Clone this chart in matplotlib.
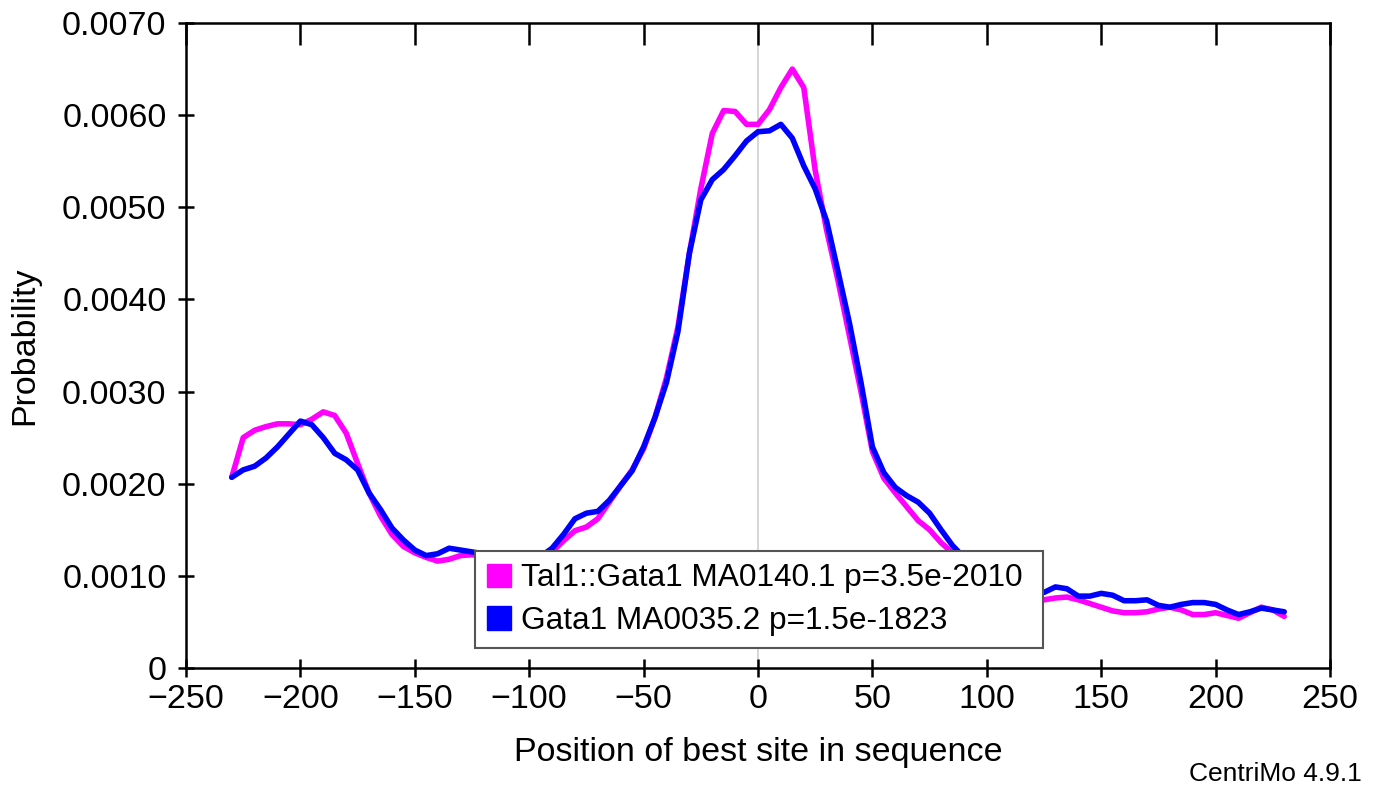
import matplotlib
matplotlib.use("Agg")
import matplotlib.pyplot as plt
from matplotlib.patches import Patch

plt.rcParams['font.family'] = ['Liberation Sans', 'DejaVu Sans']

positions = list(range(-230, 231, 5))

tal1_gata1 = [
    0.00207, 0.00250, 0.00258, 0.00262, 0.00265, 0.00265, 0.00264, 0.00270, 0.00278, 0.00274,
    0.00255, 0.00222, 0.00190, 0.00165, 0.00145, 0.00132, 0.00125, 0.00120, 0.00116, 0.00118,
    0.00122, 0.00123, 0.00121, 0.00119, 0.00117, 0.00115, 0.00114, 0.00118, 0.00126, 0.00138,
    0.00149, 0.00153, 0.00162, 0.00180, 0.00198, 0.00215, 0.00238, 0.00272, 0.00315, 0.00370,
    0.00450, 0.00520, 0.00580, 0.00605, 0.00604, 0.00590, 0.00590, 0.00606, 0.00630, 0.00650,
    0.00630, 0.00540, 0.00475, 0.00420, 0.00360, 0.00300, 0.00235, 0.00206, 0.00190, 0.00175,
    0.00160, 0.00150, 0.00136, 0.00125, 0.00115, 0.00105, 0.00098, 0.00090, 0.00085, 0.00080,
    0.00076, 0.00074, 0.00076, 0.00077, 0.00074, 0.00070, 0.00066, 0.00062, 0.00060, 0.00060,
    0.00061, 0.00064, 0.00066, 0.00063, 0.00058, 0.00058, 0.00060, 0.00057, 0.00054, 0.00060,
    0.00066, 0.00063, 0.00056,
]

gata1 = [
    0.00207, 0.00215, 0.00219, 0.00228, 0.00240, 0.00254, 0.00268, 0.00264, 0.00250, 0.00233,
    0.00226, 0.00215, 0.00190, 0.00172, 0.00152, 0.00139, 0.00128, 0.00122, 0.00124, 0.00130,
    0.00128, 0.00126, 0.00124, 0.00121, 0.00118, 0.00116, 0.00115, 0.00121, 0.00130, 0.00145,
    0.00162, 0.00168, 0.00170, 0.00182, 0.00198, 0.00214, 0.00240, 0.00272, 0.00310, 0.00365,
    0.00450, 0.00508, 0.00530, 0.00541, 0.00556, 0.00572, 0.00582, 0.00583, 0.00590, 0.00575,
    0.00545, 0.00520, 0.00485, 0.00430, 0.00374, 0.00310, 0.00240, 0.00212, 0.00196, 0.00187,
    0.00180, 0.00168, 0.00150, 0.00133, 0.00120, 0.00110, 0.00103, 0.00096, 0.00090, 0.00086,
    0.00082, 0.00082, 0.00088, 0.00086, 0.00078, 0.00078, 0.00081, 0.00079, 0.00073, 0.00073,
    0.00074, 0.00068, 0.00066, 0.00069, 0.00071, 0.00071, 0.00069, 0.00063, 0.00058, 0.00061,
    0.00065, 0.00063, 0.00061,
]

series_labels = ["Tal1::Gata1 MA0140.1 p=3.5e-2010", "Gata1 MA0035.2 p=1.5e-1823"]
series_colors = ["#ff00ff", "#0000ff"]

x_ticks = [-250, -200, -150, -100, -50, 0, 50, 100, 150, 200, 250]
x_tick_labels = ["\u2212250", "\u2212200", "\u2212150", "\u2212100", "\u221250", "0",
                 "50", "100", "150", "200", "250"]
y_ticks = [0, 0.001, 0.002, 0.003, 0.004, 0.005, 0.006, 0.007]
y_tick_labels = ["0", "0.0010", "0.0020", "0.0030", "0.0040", "0.0050", "0.0060", "0.0070"]

fig = plt.figure(figsize=(13.78, 7.93), dpi=100)
ax = fig.add_axes([186/1378, 125/793, (1330-186)/1378, (668-23)/793])

ax.axvline(0, color="#d0d0d0", linewidth=1.2, zorder=1)
ax.plot(positions, tal1_gata1, color=series_colors[0], linewidth=4.0, zorder=3,
        solid_capstyle="round", solid_joinstyle="round")
ax.plot(positions, gata1, color=series_colors[1], linewidth=4.0, zorder=4,
        solid_capstyle="round", solid_joinstyle="round")

ax.set_xlim(-250, 250)
ax.set_ylim(0, 0.007)
ax.set_xticks(x_ticks)
ax.set_xticklabels(x_tick_labels)
ax.set_yticks(y_ticks)
ax.set_yticklabels(y_tick_labels)

for s in ax.spines.values():
    s.set_linewidth(1.8)

ax.tick_params(axis="x", which="both", direction="inout", length=13, width=1.8,
               labelsize=24.5, pad=5, top=True)
ax.tick_params(axis="y", which="both", direction="inout", length=12, width=1.8,
               labelsize=24.5, pad=8, right=False)
for t in ax.xaxis.get_major_ticks():
    t.tick2line.set_markersize(16)
    t.tick2line.set_marker(3)

ax.set_xlabel("Position of best site in sequence", fontsize=24.5, labelpad=16)
ax.set_ylabel("Probability", fontsize=24.5, labelpad=16)

handles = [Patch(facecolor=c, edgecolor=c) for c in series_colors]
leg = ax.legend(handles, series_labels, loc="lower left",
                bbox_to_anchor=(0.253, 0.031, 0.4965, 0.150), mode="expand",
                fontsize=22.8, frameon=True, fancybox=False, framealpha=1,
                edgecolor="#555555", handlelength=0.75, handleheight=0.75,
                handletextpad=0.3, borderpad=0.38, labelspacing=0.4,
                borderaxespad=0)
leg.get_frame().set_linewidth(1.5)
leg.set_zorder(5)

fig.text(1362/1378, 1 - 774/793, "CentriMo 4.9.1", ha="right", va="center", fontsize=19)

fig.savefig("out.png", dpi=100)
